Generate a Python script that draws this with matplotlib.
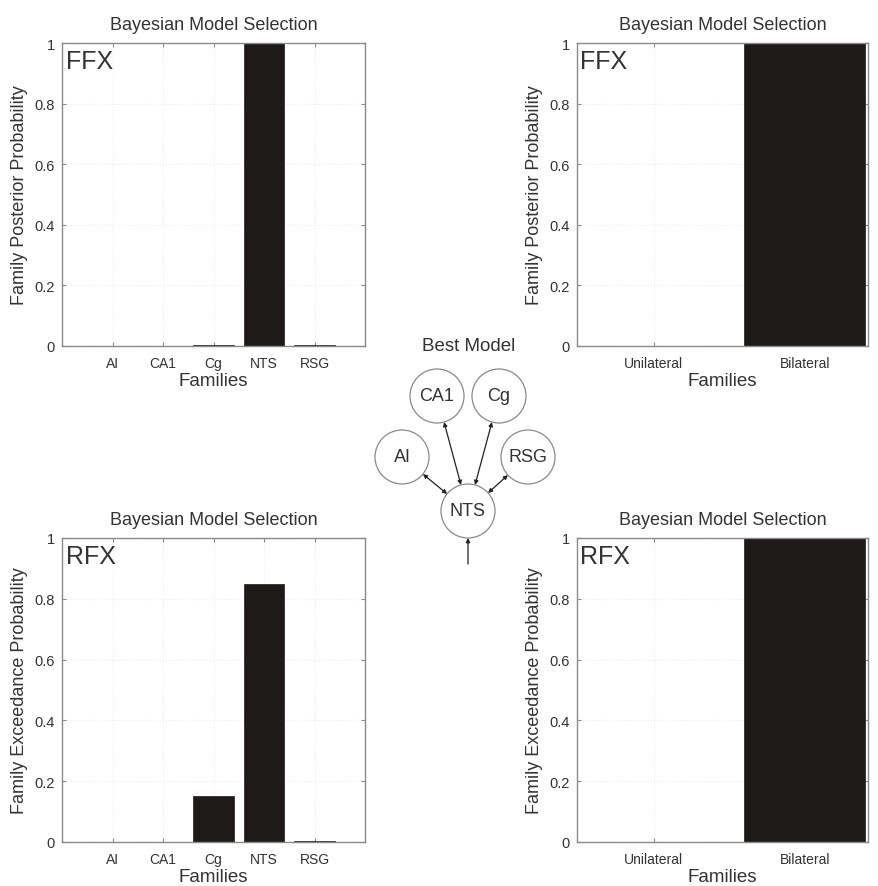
import numpy as np
import matplotlib.pyplot as plt
from matplotlib.patches import Circle, FancyArrowPatch

plt.rcParams['font.family'] = ['Liberation Sans Narrow', 'Liberation Sans', 'DejaVu Sans']

# data
regions = ['AI', 'CA1', 'Cg', 'NTS', 'RSG']
ffx_region = [0.0, 0.0, 0.002, 1.0, 0.002]
rfx_region = [0.001, 0.001, 0.15, 0.85, 0.003]
sides = ['Unilateral', 'Bilateral']
ffx_side = [0.0, 1.0]
rfx_side = [0.0, 1.0]

# best model diagram (figure pixels)
nodes = ['CA1', 'Cg', 'AI', 'RSG', 'NTS']
node_x = [437, 499, 402, 528, 468]
node_y = [397, 397, 458, 458, 512]

W, H = 879, 887
txt = '#333333'
edge = '#8a8a8a'
barcol = '#1e1a1a'

fig = plt.figure(figsize=(W / 100, H / 100), dpi=100)


def panel(rect, labels, vals, xlim, tag, ylab):
    ax = fig.add_axes(rect)
    x = np.arange(1, len(labels) + 1)
    ax.bar(x, vals, width=0.8, color=barcol, edgecolor=barcol, linewidth=0.5)
    ax.set_xlim(xlim)
    ax.set_ylim(0, 1)
    ax.set_xticks(x)
    ax.set_xticklabels(labels, fontsize=10, color=txt)
    ax.set_yticks([0, 0.2, 0.4, 0.6, 0.8, 1])
    ax.set_yticklabels(['0', '0.2', '0.4', '0.6', '0.8', '1'], fontsize=10.5, color=txt)
    ax.tick_params(direction='in', length=3, color=edge, top=True, right=True, pad=5)
    ax.tick_params(axis='x', pad=7)
    ax.grid(True, color='#ececec', linestyle=':', linewidth=0.8)
    ax.set_axisbelow(True)
    for s in ax.spines.values():
        s.set_color(edge)
        s.set_linewidth(1.0)
    ax.set_title('Bayesian Model Selection', fontsize=13, color=txt, pad=10)
    ax.set_xlabel('Families', fontsize=13.5, color=txt, labelpad=2)
    ax.set_ylabel(ylab, fontsize=13, color=txt, labelpad=5)
    ax.text(0.012, 0.98, tag, transform=ax.transAxes, va='top', ha='left',
            fontsize=18, color=txt)
    return ax


panel([62 / W, 1 - 347 / H, 303 / W, 303 / H], regions, ffx_region, (0, 6),
      'FFX', 'Family Posterior Probability')
panel([62 / W, 1 - 843 / H, 303 / W, 304 / H], regions, rfx_region, (0, 6),
      'RFX', 'Family Exceedance Probability')
panel([577 / W, 1 - 347 / H, 291 / W, 303 / H], sides, ffx_side, (0.49, 2.42),
      'FFX', 'Family Posterior Probability')
panel([577 / W, 1 - 843 / H, 291 / W, 304 / H], sides, rfx_side, (0.49, 2.42),
      'RFX', 'Family Exceedance Probability')

# diagram overlay
dax = fig.add_axes([0, 0, 1, 1])
dax.set_xlim(0, W)
dax.set_ylim(H, 0)
dax.axis('off')
dax.patch.set_alpha(0)
r = 27
dax.text(469, 347, 'Best Model', ha='center', va='center', fontsize=13.5, color=txt)
for name, cx, cy in zip(nodes, node_x, node_y):
    dax.add_patch(Circle((cx, cy), r, facecolor='white', edgecolor='#8a8a8a', lw=0.9))
    dax.text(cx, cy, name, ha='center', va='center', fontsize=13, color=txt)

hub = nodes.index('NTS')
hx, hy = node_x[hub], node_y[hub]
for i, name in enumerate(nodes):
    if name == 'NTS':
        continue
    cx, cy = node_x[i], node_y[i]
    d = np.hypot(hx - cx, hy - cy)
    ux, uy = (hx - cx) / d, (hy - cy) / d
    dax.add_patch(FancyArrowPatch((cx + ux * r, cy + uy * r), (hx - ux * r, hy - uy * r),
                                  arrowstyle='<|-|>', mutation_scale=6, lw=0.9,
                                  color='#222222', shrinkA=0, shrinkB=0))
dax.add_patch(FancyArrowPatch((hx, hy + r + 26), (hx, hy + r), arrowstyle='-|>',
                              mutation_scale=6, lw=0.9, color='#222222',
                              shrinkA=0, shrinkB=0))

fig.savefig('out.png', dpi=100)
